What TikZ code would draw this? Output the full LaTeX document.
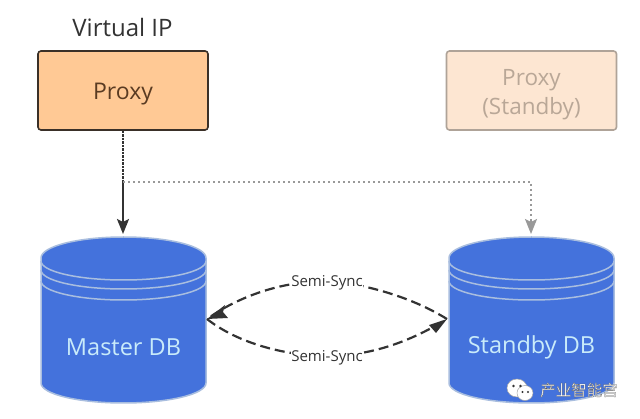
\documentclass[tikz,border=0pt]{standalone}
\usepackage{fontspec}
\setmainfont{Open Sans}
\newfontfamily\cjk{Noto Sans CJK SC}
\usetikzlibrary{arrows.meta}
\definecolor{pxfill}{HTML}{FFC995}
\definecolor{pxline}{HTML}{3A3028}
\definecolor{pxtext}{HTML}{5A3B22}
\definecolor{sbfill}{HTML}{FDE6D2}
\definecolor{sbline}{HTML}{AFA398}
\definecolor{sbtext}{HTML}{B9A797}
\definecolor{dbfill}{HTML}{4472DC}
\definecolor{dbline}{HTML}{A9BEDF}
\definecolor{dbtext}{HTML}{C9EBFA}
\definecolor{inkc}{HTML}{333333}
\tikzset{
 pbox/.style={draw=pxline,fill=pxfill,text=pxtext,line width=1.6pt,rounded corners=3pt,minimum width=170pt,minimum height=79pt,inner sep=0pt,font=\fontsize{23}{27}\selectfont,align=center},
 sbox/.style={pbox,draw=sbline,fill=sbfill,text=sbtext,font=\fontsize{22.5}{29}\selectfont},
 dbtxt/.style={text=dbtext,inner sep=0pt,font=\fontsize{23.5}{27}\selectfont},
 arcline/.style={draw=inkc,line width=2.2pt,dash pattern=on 10pt off 5pt},
 synclabel/.style={fill=white,inner sep=0pt,text=inkc,font=\fontsize{15}{18}\selectfont},
 tipk/.style={-{Stealth[length=15pt,width=12pt,inset=3pt]}},
}
\newcommand{\dbshape}[2]{%
 \fill[dbfill] (#1,258) arc[x radius=#2,y radius=21,start angle=180,end angle=360] -- (#1+2*#2,383) arc[x radius=#2,y radius=20,start angle=0,end angle=180] -- cycle;
 \draw[dbline,line width=1.5pt] (#1,258) arc[x radius=#2,y radius=21,start angle=180,end angle=360] -- (#1+2*#2,383) arc[x radius=#2,y radius=20,start angle=0,end angle=180] -- cycle;
 \foreach \yy in {261,270,281}{
  \draw[dbline,line width=1.5pt] (#1,\yy) arc[x radius=#2,y radius=19,start angle=180,end angle=0];
 }%
}
\begin{document}
\begin{tikzpicture}[x=1pt,y=-1pt]
\useasboundingbox (0,0) rectangle (640,419);
\fill[white] (0,0) rectangle (640,419);
\dbshape{41}{82.5}
\dbshape{449}{82.5}
\node[pbox] (proxy) at (123,90.5) {\rule{0pt}{23pt}Proxy};
\node[sbox] (standby) at (531.5,90.5) {\rule{0pt}{25pt}Proxy\\(Standby)};
\node[text=inkc,inner sep=0pt,font=\fontsize{24}{27}\selectfont] (vip) at (122.5,27.5) {Virtual IP};
\node[dbtxt] (master) at (123.5,347) {Master DB};
\node[dbtxt] (standbydb) at (531.5,347) {Standby DB};
\coordinate (split) at (123,182);
\coordinate (mastertop) at (123,234);
\coordinate (corner) at (531,182);
\coordinate (sbtop) at (531,234);
\coordinate (ml) at (207,319);
\coordinate (sl) at (447,319);
\draw[inkc,line width=1.8pt,dash pattern=on 2.5pt off 1pt] (proxy.south) -- (split);
\draw[inkc,line width=2.2pt,tipk] (split) -- (mastertop);
\draw[gray!80,line width=1.6pt,dash pattern=on 2pt off 3pt] (split) -- (corner) -- (531,220);
\draw[gray!80,line width=1.6pt,tipk,dash pattern=on 2pt off 3pt] (531,220) -- (sbtop);
\draw[arcline] (sl) .. controls (395,287) and (335,281) .. (327,281) .. controls (290,281) and (245,292) .. (ml);
\draw[arcline] (ml) .. controls (240,345) and (290,356) .. (327,356) .. controls (365,356) and (405,345) .. (sl);
\fill[inkc] (ml) -- (225,305) -- (223,312) -- (228,318) -- cycle;
\fill[inkc] (sl) -- (429,325) -- (436,333) -- cycle;
\node[synclabel] (s1) at (327,281) {\rule{0pt}{15pt}Semi-Sync};
\node[synclabel] (s2) at (327,356) {\rule{0pt}{15pt}Semi-Sync};
\fill[white,draw=gray!70,line width=.5pt] (517,388) ellipse[x radius=10,y radius=9];
\fill[white,draw=gray!70,line width=.5pt] (525,393) ellipse[x radius=8,y radius=7.5];
\fill[inkc] (513.5,386) circle (1.3) (520.5,386) circle (1.3) (522.5,392) circle (1.1) (528,392) circle (1.1);
\node[text=white,inner sep=0pt,font=\cjk\fontsize{15.5}{18}\selectfont] (wm) at (579,390) {\special{pdf:code q 2 Tr 0.25 w 0.35 0.35 0.35 RG 1 1 1 rg}产业智能宫\special{pdf:code 0 Tr Q}};
\end{tikzpicture}
\end{document}
